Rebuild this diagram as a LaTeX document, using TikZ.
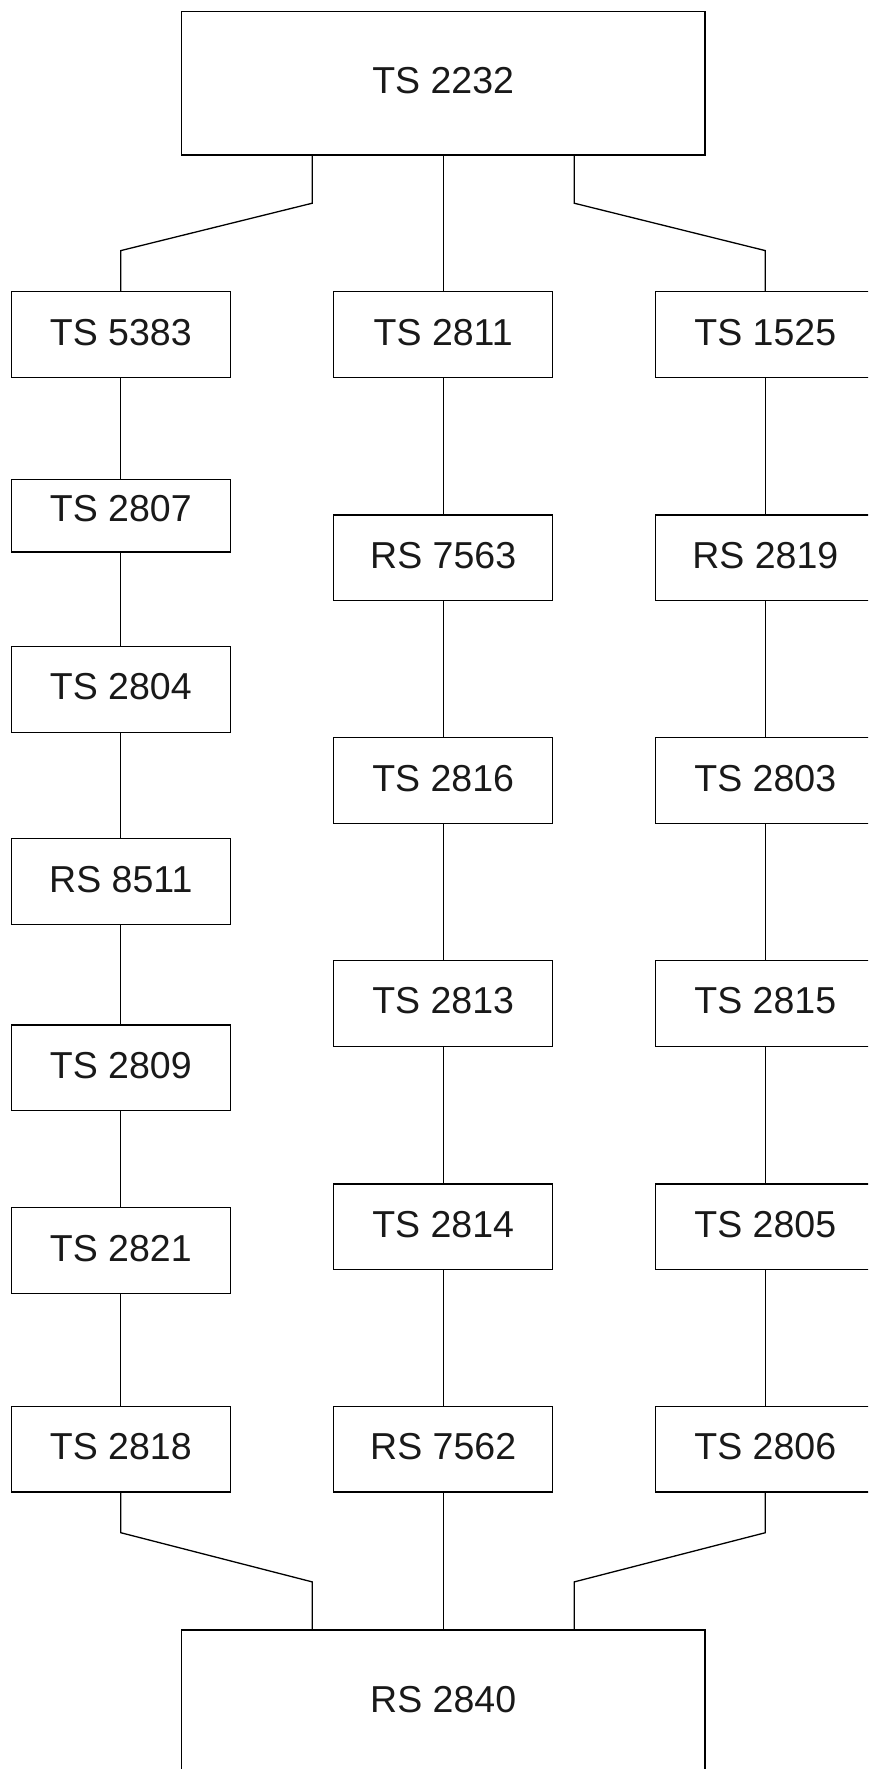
\documentclass[tikz,border=0pt]{standalone}
\usepackage{fontspec}
\setmainfont{Liberation Sans}
\begin{document}
\begin{tikzpicture}[x=1pt,y=-1pt,
  line width=1.3pt,
  every node/.style={font=\fontsize{37.5}{45}\selectfont, text=black!90, inner sep=0pt},
  box/.style={draw, rectangle, minimum width=219pt, minimum height=85.8pt, text height=27pt, text depth=6pt},
  bigbox/.style={draw, rectangle, minimum width=523.3pt, minimum height=143.3pt, text height=27pt, text depth=6pt},
  conn/.style={draw, line width=1.2pt}]
\clip (0,0) rectangle (868,1769);
% top and bottom
\node[bigbox] (top) at (443.2,83.3) {TS 2232};
\node[bigbox] (bot) at (443.2,1701.5) {RS 2840};
% left column
\node[box] (L1) at (120.8,334.6) {TS 5383};
\node[box, minimum height=72.7pt, text depth=16pt] (L2) at (120.8,515.7) {TS 2807};
\node[box] (L3) at (120.8,689.3) {TS 2804};
\node[box] (L4) at (120.8,881.5) {RS 8511};
\node[box] (L5) at (120.8,1067.8) {TS 2809};
\node[box] (L6) at (120.8,1250.6) {TS 2821};
\node[box] (L7) at (120.8,1449.2) {TS 2818};
% center column
\node[box] (C1) at (443.2,334.6) {TS 2811};
\node[box] (C2) at (443.2,557.8) {RS 7563};
\node[box] (C3) at (443.2,780.5) {TS 2816};
\node[box] (C4) at (443.2,1003.4) {TS 2813};
\node[box] (C5) at (443.2,1226.9) {TS 2814};
\node[box] (C6) at (443.2,1449.2) {RS 7562};
% right column
\node[box] (R1) at (765.3,334.6) {TS 1525};
\node[box] (R2) at (765.3,557.8) {RS 2819};
\node[box] (R3) at (765.3,780.5) {TS 2803};
\node[box] (R4) at (765.3,1003.4) {TS 2815};
\node[box] (R5) at (765.3,1226.9) {TS 2805};
\node[box] (R6) at (765.3,1449.2) {TS 2806};
% top connectors
\coordinate (ta) at (312.3,203.2);
\coordinate (tb) at (120.8,250.6);
\coordinate (tc) at (574.2,203.2);
\coordinate (td) at (765.3,250.6);
\draw (top.south -| ta) -- (ta) -- (tb) -- (L1.north);
\draw (top.south) -- (C1.north);
\draw (top.south -| tc) -- (tc) -- (td) -- (R1.north);
% bottom connectors
\coordinate (ba) at (120.8,1532.7);
\coordinate (bb) at (312.3,1581.9);
\coordinate (bc) at (765.3,1532.7);
\coordinate (bd) at (574.2,1581.9);
\draw (L7.south) -- (ba) -- (bb) -- (bot.north -| bb);
\draw (C6.south) -- (bot.north);
\draw (R6.south) -- (bc) -- (bd) -- (bot.north -| bd);
% verticals
\foreach \a/\b in {L1/L2,L2/L3,L3/L4,L4/L5,L5/L6,L6/L7,C1/C2,C2/C3,C3/C4,C4/C5,C5/C6,R1/R2,R2/R3,R3/R4,R4/R5,R5/R6}
  \draw (\a.south) -- (\b.north);
\end{tikzpicture}
\end{document}
